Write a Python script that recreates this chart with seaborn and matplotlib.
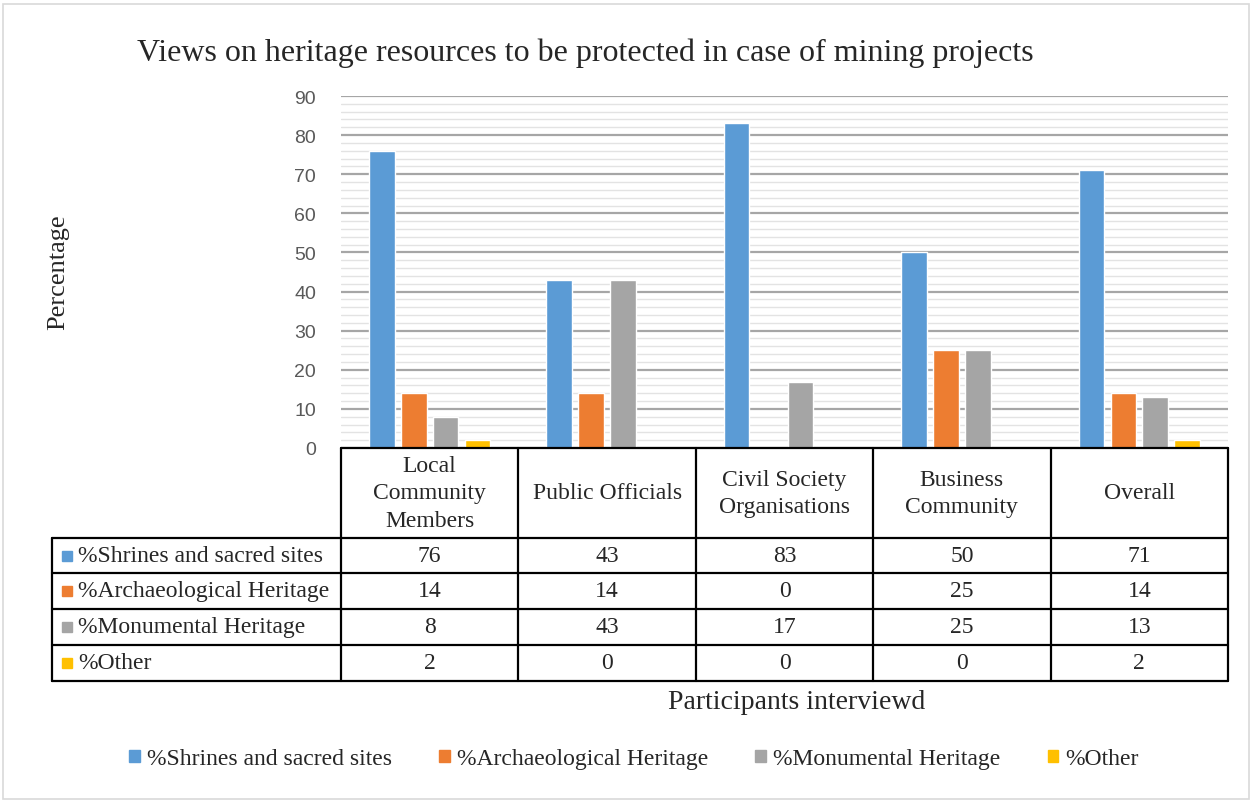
import matplotlib
matplotlib.use("Agg")
import matplotlib.pyplot as plt
from matplotlib.lines import Line2D
from matplotlib.patches import Rectangle, Patch
import seaborn as sns
import pandas as pd

groups = ["Local\nCommunity\nMembers", "Public Officials", "Civil Society\nOrganisations",
          "Business\nCommunity", "Overall"]
series = ["%Shrines and sacred sites", "%Archaeological Heritage", "%Monumental Heritage", "%Other"]
shrines = [76, 43, 83, 50, 71]
archaeological = [14, 14, 0, 25, 14]
monumental = [8, 43, 17, 25, 13]
other = [2, 0, 0, 0, 2]
colors = ["#5B9BD5", "#ED7D31", "#A5A5A5", "#FFC000"]

values = [shrines, archaeological, monumental, other]
rows = []
for s, vals in zip(series, values):
    for g, v in zip(groups, vals):
        rows.append({"group": g, "series": s, "value": v})
df = pd.DataFrame(rows)

W, H = 1253, 803
sns.set_style("white")
plt.rcParams["font.family"] = ["Liberation Serif", "DejaVu Serif"]

fig = plt.figure(figsize=(W / 100, H / 100), dpi=100)


def fx(px):
    return px / W


def fy(py):
    return 1 - py / H


ax_left, ax_right, ax_top, ax_bottom = 341, 1228, 97, 449
ax = fig.add_axes([fx(ax_left), fy(ax_bottom), fx(ax_right - ax_left), fy(ax_top) - fy(ax_bottom)])

sns.barplot(data=df, x="group", y="value", hue="series", palette=colors, order=groups,
            hue_order=series, width=0.72, gap=0.2, saturation=1, ax=ax, legend=False, zorder=3)

ax.set_ylim(0, 90)
ax.set_xlim(-0.5, len(groups) - 0.5)
ax.set_yticks(range(0, 91, 10))
ax.set_yticks(range(0, 91, 2), minor=True)
ax.grid(axis="y", which="major", color="#A6A6A6", lw=1.6, zorder=1)
ax.grid(axis="y", which="minor", color="#E3E3E3", lw=1.0, zorder=0)
ax.tick_params(axis="y", which="both", length=0, labelsize=14, labelcolor="#595959", pad=18)
for t in ax.get_yticklabels():
    t.set_family(["Liberation Sans", "DejaVu Sans"])
ax.set_xticks([])
ax.set_xlabel("")
ax.set_ylabel("")
sns.despine(ax=ax, left=True, bottom=True)

# title and axis labels
fig.text(fx(585), fy(53), "Views on heritage resources to be protected in case of mining projects",
         ha="center", va="center", fontsize=23)
fig.text(fx(58), fy(272), "Percentage", ha="center", va="center", rotation=90, fontsize=19)
fig.text(fx(797), fy(703), "Participants interviewd", ha="center", va="center", fontsize=20)

# data table under the axis
col_w = (ax_right - ax_left) / len(groups)
col_edges = [ax_left + i * col_w for i in range(len(groups) + 1)]
row_edges = [539, 574, 610, 646, 682]
label_left = 52
lw = 1.6


def hline(x0, x1, y):
    fig.add_artist(Line2D([fx(x0), fx(x1)], [fy(y), fy(y)], color="black", lw=lw))


def vline(x, y0, y1):
    fig.add_artist(Line2D([fx(x), fx(x)], [fy(y0), fy(y1)], color="black", lw=lw))


hline(ax_left, ax_right, ax_bottom)
for y in row_edges:
    hline(label_left, ax_right, y)
for x in col_edges:
    vline(x, ax_bottom, row_edges[-1])
vline(label_left, row_edges[0], row_edges[-1])

for i, g in enumerate(groups):
    cx = (col_edges[i] + col_edges[i + 1]) / 2
    fig.text(fx(cx), fy((ax_bottom + row_edges[0]) / 2), g, ha="center", va="center",
             fontsize=17, linespacing=1.4)
    for r, vals in enumerate(values):
        cy = (row_edges[r] + row_edges[r + 1]) / 2
        fig.text(fx(cx), fy(cy), str(vals[i]), ha="center", va="center", fontsize=17)

for r, (s, c) in enumerate(zip(series, colors)):
    cy = (row_edges[r] + row_edges[r + 1]) / 2
    fig.add_artist(Rectangle((fx(62), fy(cy + 5)), fx(10), fy(0) - fy(10), color=c,
                             transform=fig.transFigure))
    fig.text(fx(78), fy(cy), s, ha="left", va="center", fontsize=17)

# legend
handles = [Patch(facecolor=c, edgecolor=c) for c in colors]
fig.legend(handles, series, loc="center", bbox_to_anchor=(fx(634), fy(760)), ncol=4,
           frameon=False, fontsize=17, handlelength=0.45, handleheight=0.45, handletextpad=0.3,
           columnspacing=2.0)

# outer chart border
fig.add_artist(Rectangle((fx(3), fy(800)), fx(W - 4) - fx(3), fy(5) - fy(800), fill=False,
                         edgecolor="#D9D9D9", lw=1.2, transform=fig.transFigure))

fig.savefig("out.png", dpi=100)
